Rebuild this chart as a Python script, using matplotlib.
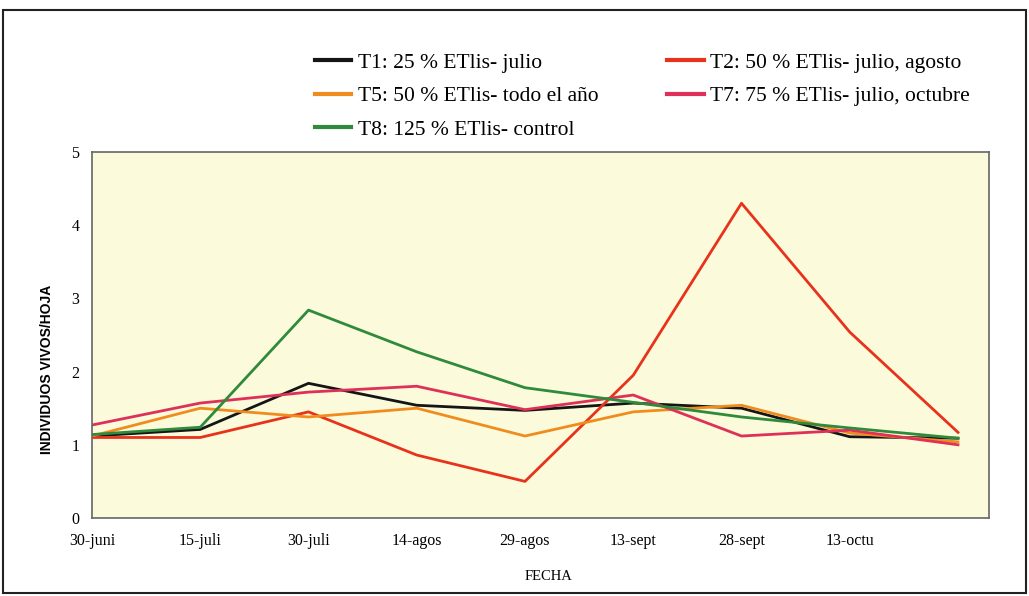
import matplotlib
matplotlib.use("Agg")
import matplotlib.pyplot as plt
from matplotlib.patches import Rectangle

fechas = ["30-juni", "15-juli", "30-juli", "14-agos", "29-agos", "13-sept", "28-sept", "13-octu", ""]
t1 = [1.12, 1.21, 1.84, 1.54, 1.47, 1.57, 1.50, 1.11, 1.09]
t2 = [1.10, 1.10, 1.45, 0.86, 0.50, 1.95, 4.30, 2.54, 1.17]
t5 = [1.12, 1.50, 1.38, 1.50, 1.12, 1.45, 1.54, 1.16, 1.04]
t7 = [1.27, 1.57, 1.72, 1.80, 1.48, 1.68, 1.12, 1.20, 1.00]
t8 = [1.14, 1.24, 2.84, 2.27, 1.78, 1.58, 1.38, 1.23, 1.09]

labels = {
    "t1": "T1: 25 % ETlis- julio",
    "t2": "T2: 50 % ETlis- julio, agosto",
    "t5": "T5: 50 % ETlis- todo el año",
    "t7": "T7: 75 % ETlis- julio, octubre",
    "t8": "T8: 125 % ETlis- control",
}
colors = {"t1": "#151515", "t2": "#e8321c", "t5": "#f08c1e", "t7": "#de3058", "t8": "#2f8a3c"}
series = {"t1": t1, "t2": t2, "t5": t5, "t7": t7, "t8": t8}

W, H = 1029, 596
fig = plt.figure(figsize=(W / 100, H / 100), dpi=100)
fig.patch.set_facecolor("white")
ax = fig.add_axes([92 / W, 1 - 518 / H, (989 - 92) / W, (518 - 152) / H])
ax.set_facecolor("#fbfbdb")

x = list(range(len(fechas)))
lines = {}
for key in ["t1", "t2", "t5", "t7", "t8"]:
    (ln,) = ax.plot(x, series[key], color=colors[key], lw=2.0, label=labels[key])
    lines[key] = ln

ax.set_xlim(0, (989 - 92) / ((958 - 92) / 8))
ax.set_ylim(0, 5)
ax.set_yticks([0, 1, 2, 3, 4, 5])
ax.set_xticks(x[:-1])
ax.set_xticklabels(fechas[:-1], family="Liberation Serif", fontsize=11.5)
for lab in ax.get_yticklabels():
    lab.set_family("Liberation Serif")
    lab.set_fontsize(11.5)
ax.tick_params(axis="x", length=0, pad=11)
ax.tick_params(axis="y", length=0, pad=9)
for sp in ax.spines.values():
    sp.set_color("#666666")
    sp.set_linewidth(1.2)

fig.text(47 / W, 1 - 369 / H, "INDIVIDUOS VIVOS/HOJA", rotation=90, ha="center", va="center",
         family="Liberation Sans", fontweight="bold", fontsize=10)
fig.text(549 / W, 1 - 577 / H, "FECHA", ha="center", va="center",
         family="Liberation Serif", fontsize=10.5)

order = ["t1", "t5", "t8", "t2", "t7"]
leg = fig.legend([lines[k] for k in order], [labels[k] for k in order], ncol=2,
                 loc="upper left", bbox_to_anchor=(304 / W, 1 - 42 / H), frameon=False,
                 prop={"family": "Liberation Serif", "size": 15.5}, handlelength=1.7,
                 handletextpad=0.3, columnspacing=3.2, labelspacing=0.62, borderpad=0)
for h in leg.legend_handles:
    h.set_linewidth(3)

fig.add_artist(Rectangle((3 / W, 3 / H), (W - 6) / W, (H - 13) / H, transform=fig.transFigure,
                         fill=False, edgecolor="#222222", lw=1.5))

fig.savefig("out.png", dpi=100)
